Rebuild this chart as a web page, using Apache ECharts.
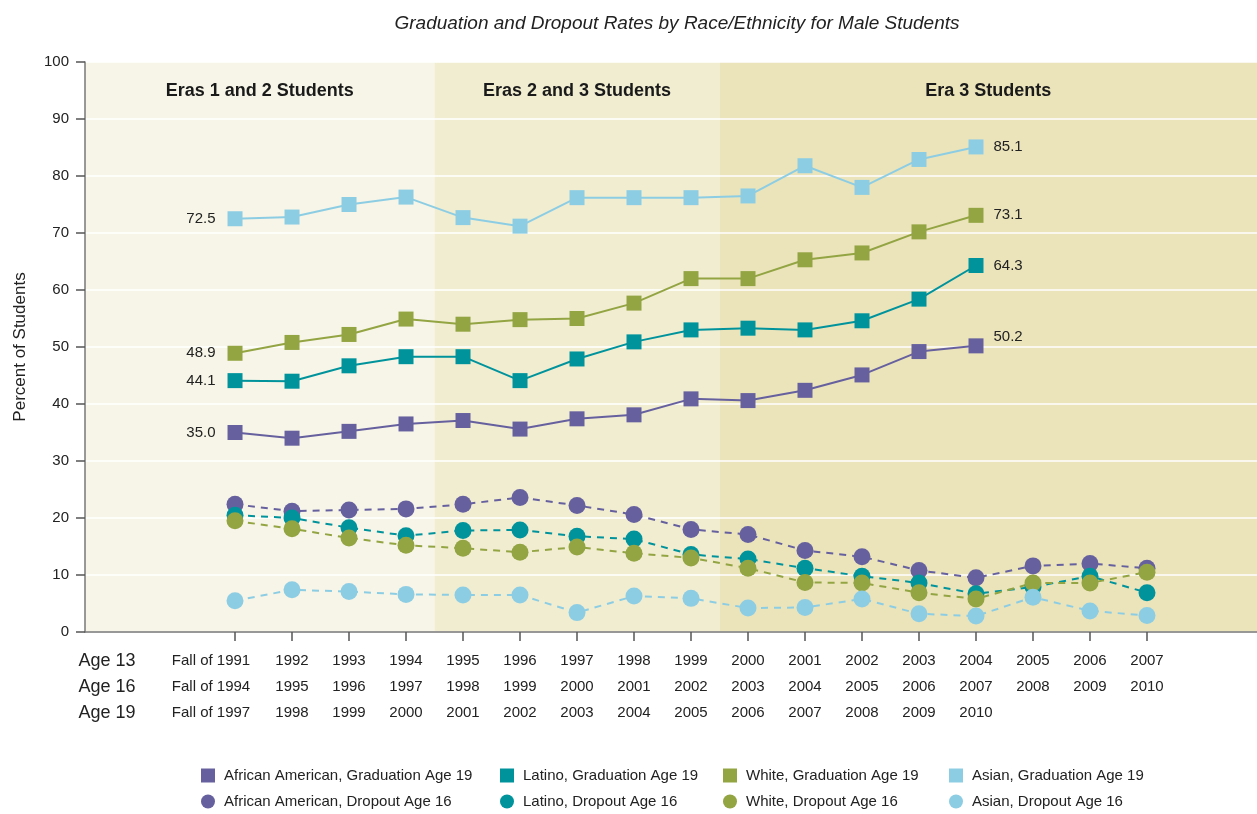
<!DOCTYPE html>
<html lang="en">
<head>
  <meta charset="UTF-8">
  <title>Graduation and Dropout Rates</title>
  <style>
    html, body { margin: 0; padding: 0; background: #fff; }
  </style>
</head>
<body>
  <div id="main" style="width: 1257px; height: 814px;"></div>
  <script src="https://cdn.jsdelivr.net/npm/echarts@6/dist/echarts.min.js"></script>
  <script type="text/javascript">
    // tick label rows
    var age13Labels = ['Fall of 1991', '1992', '1993', '1994', '1995', '1996', '1997', '1998', '1999', '2000', '2001', '2002', '2003', '2004', '2005', '2006', '2007'];
    var age16Labels = ['Fall of 1994', '1995', '1996', '1997', '1998', '1999', '2000', '2001', '2002', '2003', '2004', '2005', '2006', '2007', '2008', '2009', '2010'];
    var age19Labels = ['Fall of 1997', '1998', '1999', '2000', '2001', '2002', '2003', '2004', '2005', '2006', '2007', '2008', '2009', '2010', '', '', ''];
    var ageNames = ['Age 13', 'Age 16', 'Age 19'];

    // graduation at age 19 (cohorts 1991 - 2004)
    var aaGrad = [35.0, 34.0, 35.2, 36.5, 37.1, 35.6, 37.4, 38.1, 40.9, 40.6, 42.4, 45.1, 49.2, 50.2];
    var latGrad = [44.1, 44.0, 46.7, 48.3, 48.3, 44.1, 47.9, 50.9, 53.0, 53.3, 53.0, 54.6, 58.4, 64.3];
    var whiteGrad = [48.9, 50.8, 52.2, 54.9, 54.0, 54.8, 55.0, 57.7, 62.0, 62.0, 65.3, 66.5, 70.2, 73.1];
    var asianGrad = [72.5, 72.8, 75.0, 76.3, 72.7, 71.2, 76.2, 76.2, 76.2, 76.5, 81.8, 78.0, 82.9, 85.1];

    // dropout at age 16 (cohorts 1991 - 2007)
    var aaDrop = [22.4, 21.2, 21.4, 21.6, 22.4, 23.6, 22.2, 20.6, 18.0, 17.1, 14.3, 13.2, 10.8, 9.5, 11.6, 12.0, 11.2];
    var latDrop = [20.5, 20.0, 18.3, 16.9, 17.8, 17.9, 16.8, 16.3, 13.6, 12.8, 11.2, 9.8, 8.6, 6.7, 7.9, 9.8, 6.9];
    var whiteDrop = [19.5, 18.1, 16.5, 15.2, 14.7, 14.0, 14.9, 13.8, 13.0, 11.2, 8.7, 8.6, 6.9, 5.8, 8.6, 8.6, 10.5];
    var asianDrop = [5.5, 7.4, 7.1, 6.6, 6.5, 6.5, 3.4, 6.3, 5.9, 4.2, 4.3, 5.8, 3.2, 2.8, 6.1, 3.7, 2.9];

    var eraNames = ['Eras 1 and 2 Students', 'Eras 2 and 3 Students', 'Era 3 Students'];

    var FONT = "'Liberation Sans Narrow', 'Liberation Sans', sans-serif";
    var xMin = -2.632, xMax = 17.93;
    var eraBounds = [xMin, 3.5, 8.5, xMax];
    var eraColors = ['#f7f5e7', '#f1edd1', '#ebe4bb'];

    var colors = { aa: '#66609f', lat: '#00939c', white: '#93a443', asian: '#8dcde4' };

    var tickIdx = [];
    for (var t = 0; t < age13Labels.length; t++) tickIdx.push(t);
    var ageX = -2.246;

    function toPairs(arr, labelled, endOffset) {
      return arr.map(function (v, i) {
        var item = { value: [i, v] };
        if (labelled && i === 0) {
          item.label = { show: true, position: 'left', distance: 12 };
        } else if (labelled && i === arr.length - 1) {
          item.label = { show: true, position: 'right', distance: 10, offset: endOffset || [0, 0] };
        }
        return item;
      });
    }

    function gradSeries(name, arr, color, endOffset) {
      return {
        name: name, type: 'line', data: toPairs(arr, true, endOffset),
        symbol: 'rect', symbolSize: 15,
        itemStyle: { color: color },
        lineStyle: { color: color, width: 2 },
        label: {
          show: false, fontFamily: FONT, fontSize: 15, color: '#222',
          formatter: function (p) { return p.value[1].toFixed(1); }
        },
        emphasis: { disabled: true },
        z: 5
      };
    }

    function dropSeries(name, arr, color) {
      return {
        name: name, type: 'line', data: toPairs(arr, false),
        symbol: 'circle', symbolSize: 17,
        itemStyle: { color: color },
        lineStyle: { color: color, width: 2, type: [7, 6] },
        emphasis: { disabled: true },
        z: 4
      };
    }

    var bgAreas = [];
    for (var e = 0; e < eraNames.length; e++) {
      bgAreas.push([
        { name: eraNames[e], xAxis: eraBounds[e], yAxis: 0, itemStyle: { color: eraColors[e] } },
        { xAxis: eraBounds[e + 1], yAxis: 100 }
      ]);
    }

    var legendItems = [
      { name: 'African American, Graduation Age 19', icon: 'rect', left: 201, top: 768 },
      { name: 'Latino, Graduation Age 19', icon: 'rect', left: 500, top: 768 },
      { name: 'White, Graduation Age 19', icon: 'rect', left: 723, top: 768 },
      { name: 'Asian, Graduation Age 19', icon: 'rect', left: 949, top: 768 },
      { name: 'African American, Dropout Age 16', icon: 'circle', left: 201, top: 794 },
      { name: 'Latino, Dropout Age 16', icon: 'circle', left: 500, top: 794 },
      { name: 'White, Dropout Age 16', icon: 'circle', left: 723, top: 794 },
      { name: 'Asian, Dropout Age 16', icon: 'circle', left: 949, top: 794 }
    ];

    var myChart = echarts.init(document.getElementById('main'));

    var option = {
      animation: false,
      title: {
        text: 'Graduation and Dropout Rates by Race/Ethnicity for Male Students',
        left: 672, top: 9, textAlign: 'center',
        textStyle: { fontFamily: FONT, fontStyle: 'italic', fontWeight: 'normal', fontSize: 19, color: '#222' }
      },
      legend: legendItems.map(function (l) {
        return {
          data: [{ name: l.name, icon: l.icon }],
          left: l.left, top: l.top, padding: 0,
          itemWidth: 14, itemHeight: 14, selectedMode: false,
          textStyle: { fontFamily: FONT, fontSize: 15, color: '#222', padding: [0, 0, 0, 4] }
        };
      }),
      grid: { left: 85, right: 0, top: 62, bottom: 182, containLabel: false, outerBoundsMode: 'none' },
      xAxis: {
        type: 'value', min: xMin, max: xMax, z: 3,
        axisLine: { onZero: false, lineStyle: { color: '#777', width: 1.5 } },
        axisTick: { customValues: tickIdx, length: 9, lineStyle: { color: '#555', width: 1.5 } },
        splitLine: { show: false },
        axisLabel: {
          customValues: [ageX].concat(tickIdx),
          margin: 16, lineHeight: 26,
          fontFamily: FONT, fontSize: 15, color: '#222',
          formatter: function (v) {
            if (v < -1) {
              return ageNames.map(function (s) { return '{age|' + s + '}'; }).join('\n');
            }
            var i = Math.round(v);
            if (i === 0) {
              return '{first|' + age13Labels[0] + '}\n{first|' + age16Labels[0] + '}\n{first|' + age19Labels[0] + '}';
            }
            return age13Labels[i] + '\n' + age16Labels[i] + '\n' + age19Labels[i];
          },
          rich: {
            age: { fontFamily: FONT, fontSize: 18, lineHeight: 26, color: '#222' },
            first: { fontFamily: FONT, fontSize: 15, lineHeight: 26, color: '#222', padding: [0, 48, 0, 0] }
          }
        }
      },
      yAxis: {
        type: 'value', min: 0, max: 100, interval: 10, z: 3,
        name: 'Percent of Students', nameLocation: 'middle', nameGap: 56,
        nameTextStyle: { fontFamily: FONT, fontSize: 17, color: '#222' },
        axisLine: { show: true, onZero: false, lineStyle: { color: '#777', width: 1.5 } },
        axisTick: { show: true, length: 9, lineStyle: { color: '#555', width: 1.5 } },
        axisLabel: { fontFamily: FONT, fontSize: 15, color: '#222', margin: 16 },
        splitLine: { show: true, lineStyle: { color: '#ffffff', width: 1.5 } }
      },
      series: [
        {
          name: 'eras', type: 'line', data: [], z: 0,
          markArea: {
            silent: true, z: 0,
            label: {
              show: true, position: 'insideTop', distance: 20,
              fontFamily: FONT, fontSize: 18, fontWeight: 'bold', color: '#1a1a1a'
            },
            data: bgAreas
          }
        },
        dropSeries('African American, Dropout Age 16', aaDrop, colors.aa),
        dropSeries('Latino, Dropout Age 16', latDrop, colors.lat),
        dropSeries('White, Dropout Age 16', whiteDrop, colors.white),
        dropSeries('Asian, Dropout Age 16', asianDrop, colors.asian),
        gradSeries('African American, Graduation Age 19', aaGrad, colors.aa, [0, -9]),
        gradSeries('Latino, Graduation Age 19', latGrad, colors.lat),
        gradSeries('White, Graduation Age 19', whiteGrad, colors.white),
        gradSeries('Asian, Graduation Age 19', asianGrad, colors.asian)
      ]
    };
    myChart.setOption(option);
  </script>
</body>
</html>
